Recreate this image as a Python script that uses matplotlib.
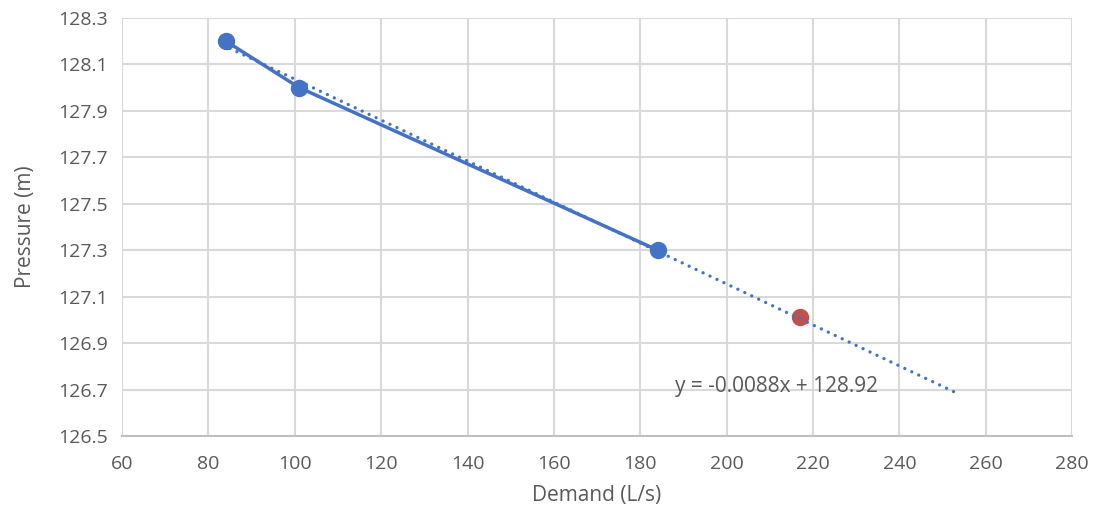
import matplotlib.pyplot as plt
import numpy as np

plt.rcParams['font.family'] = ['Open Sans', 'DejaVu Sans']

# data
demand = [84, 101, 184]
pressure = [128.2, 128.0, 127.3]
forecast_demand = [217]
forecast_pressure = [127.01]
trend_range = [85, 253]

x_ticks = list(range(60, 281, 20))
y_ticks = [126.5, 126.7, 126.9, 127.1, 127.3, 127.5, 127.7, 127.9, 128.1, 128.3]

blue = '#4472C4'
red = '#C0504D'
grey = '#595959'

slope, intercept = np.polyfit(demand, pressure, 1)

fig = plt.figure(figsize=(10.96, 5.24), dpi=100)
ax = fig.add_axes([0.1113, 0.168, 0.867, 0.798])

ax.plot(demand, pressure, color=blue, linewidth=2.5, marker='o', markersize=11.5, zorder=3)
ax.plot(forecast_demand, forecast_pressure, 'o', color=red, markersize=11.5, zorder=2)

# linear trendline, dotted
tx = np.array(trend_range)
ax.plot(tx, slope * tx + intercept, color=blue, linewidth=2.4, linestyle=(0, (0.01, 2.3)),
        dash_capstyle='round', zorder=4)
ax.text(188, 126.688, "y = -0.0088x + 128.92", fontsize=15, color=grey, va='baseline', ha='left')

ax.set_xlim(60, 280)
ax.set_ylim(126.5, 128.3)
ax.set_xticks(x_ticks)
ax.set_yticks(y_ticks)
ax.set_yticklabels([f"{v:.1f}" for v in y_ticks])
ax.grid(True, color='#d9d9d9', linewidth=1.5)
ax.set_axisbelow(True)
for side in ['top', 'right', 'left']:
    ax.spines[side].set_visible(False)
ax.spines['bottom'].set_color('#bfbfbf')
ax.spines['bottom'].set_linewidth(1.5)
ax.tick_params(axis='both', length=0, labelsize=14, labelcolor=grey, pad=10)
ax.tick_params(axis='x', pad=14)

ax.set_xlabel("Demand (L/s)", fontsize=15, color=grey, labelpad=8)
ax.set_ylabel("Pressure (m)", fontsize=15, color=grey, labelpad=16)

fig.savefig("out.png", dpi=100)
